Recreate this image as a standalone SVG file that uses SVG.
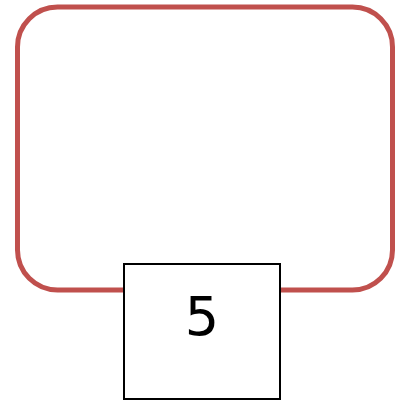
<svg xmlns="http://www.w3.org/2000/svg" width="402" height="400" viewBox="0 0 402 400">
<style>
.frame{fill:none;stroke:#c0504d;stroke-width:5}
.box{fill:#fff;stroke:#000;stroke-width:2}
.lbl{font-family:"DejaVu Sans",sans-serif;font-size:54px;fill:#000;text-anchor:middle}
</style>
<g id="container"><rect class="frame" x="17.5" y="7" width="375" height="283" rx="40" ry="40"/></g>
<g id="node5"><rect class="box" x="124" y="264" width="156" height="135"/><text class="lbl" x="202" y="335">5</text></g>
<g id="connectors"/>
</svg>
